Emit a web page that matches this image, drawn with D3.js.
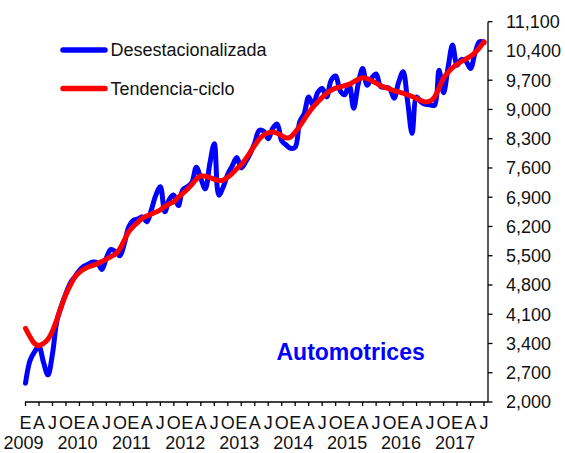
<!DOCTYPE html>
<html>
<head>
<meta charset="utf-8">
<script src="https://cdn.jsdelivr.net/npm/d3@7"></script>
<style>
  html, body { margin: 0; padding: 0; background: #fff; }
  svg { display: block; font-family: "Liberation Sans", Arial, sans-serif; }
</style>
</head>
<body>
<svg id="chart" width="565" height="453"></svg>
<script>
// ---- data ----
const years = [2009, 2010, 2011, 2012, 2013, 2014, 2015, 2016, 2017];
const monthLetters = ["E", "F", "M", "A", "M", "J", "J", "A", "S", "O", "N", "D"];
const lastMonthIndex2017 = 6; // data through julio 2017

const desestacionalizada = [
  2450, 2990, 3200, 3320, 2950, 2650, 3150, 3950, 4300, 4600, 4850, 5000,
  5150, 5250, 5300, 5350, 5330, 5170, 5450, 5650, 5600, 5500, 5800, 6200,
  6350, 6380, 6430, 6310, 6600, 6950, 7150, 6550, 6850, 6950, 6700, 7080,
  7150, 7250, 7620, 7350, 7100, 7700, 8180, 6950, 7150, 7450, 7650, 7850,
  7600, 7750, 7950, 8200, 8500, 8480, 8300, 8550, 8650, 8250, 8150, 8070,
  8100, 8700, 8900, 9300, 9100, 9400, 9500, 9300, 9700, 9800, 9450, 9350,
  9600, 9030, 9600, 9980, 9580, 9750, 9850, 9550, 9530, 9500, 9270, 9650,
  9900, 9200, 8430, 9300, 9180, 9120, 9110, 9100, 9940, 9400, 10000, 10540,
  10060, 10200, 10150, 9980, 10350, 10620, 10600
];
const tendencia = [
  3760, 3560, 3400, 3350, 3400, 3500, 3700, 3980, 4300, 4580, 4800, 4990,
  5100, 5180, 5230, 5270, 5310, 5360, 5420, 5480, 5540, 5670, 5880, 6080,
  6200, 6300, 6400, 6450, 6500, 6545, 6600, 6680, 6740, 6800, 6900, 6990,
  7090, 7200, 7330, 7410, 7400, 7370, 7330, 7300, 7310, 7380, 7470, 7580,
  7680, 7820, 7980, 8140, 8290, 8390, 8440, 8460, 8430, 8370, 8320, 8340,
  8460, 8600, 8760, 8920, 9060, 9180, 9290, 9390, 9460, 9510, 9540, 9570,
  9600, 9660, 9720, 9760, 9740, 9690, 9630, 9570, 9530, 9490, 9450, 9420,
  9390, 9350, 9310, 9260, 9210, 9180, 9200, 9300, 9520, 9750, 9890, 10000,
  10080, 10150, 10210, 10270, 10360, 10480, 10620
];
const yTicks = [2000, 2700, 3400, 4100, 4800, 5500, 6200, 6900, 7600, 8300, 9000, 9700, 10400, 11100];
const seriesNames = ["Desestacionalizada", "Tendencia-ciclo"];
const seriesColors = ["#0000ff", "#ff0000"];
const title = "Automotrices";

// categories: one per month
const categories = [];
years.forEach(y => monthLetters.forEach((m, k) => {
  if (y < 2017 || k <= lastMonthIndex2017) categories.push({ year: y, month: k, key: y + "-" + (k + 1) });
}));

// ---- layout ----
const svg = d3.select("#chart");
const x0 = 25.5, x1 = 484, axisRight = 488;
const yTop = 21.7, yBottom = 402;

const x = d3.scalePoint().domain(categories.map(d => d.key)).range([x0, x1]);
const y = d3.scaleLinear().domain([2000, 11100]).range([yBottom, yTop]);

// y axis (right)
const yAxis = svg.append("g").attr("transform", `translate(${axisRight},0)`);
yAxis.append("line").attr("x1", 0).attr("x2", 0).attr("y1", y(11100)).attr("y2", yBottom)
  .attr("stroke", "#000").attr("stroke-width", 1.3);
yTicks.forEach(t => {
  yAxis.append("line").attr("x1", 0).attr("x2", 4.5).attr("y1", y(t)).attr("y2", y(t))
    .attr("stroke", "#000").attr("stroke-width", 1.3);
  yAxis.append("text").attr("x", 18).attr("y", y(t)).attr("dy", "0.36em")
    .attr("font-size", 18).attr("fill", "#111").text(d3.format(",")(t));
});

// x axis (bottom)
const xAxis = svg.append("g");
xAxis.append("line").attr("x1", 25).attr("x2", axisRight).attr("y1", yBottom).attr("y2", yBottom)
  .attr("stroke", "#000").attr("stroke-width", 1.3);
categories.forEach(c => {
  if (c.month % 3 === 0) {
    const px = x(c.key);
    xAxis.append("line").attr("x1", px).attr("x2", px).attr("y1", yBottom).attr("y2", yBottom + 4)
      .attr("stroke", "#000").attr("stroke-width", 1.3);
    xAxis.append("text").attr("x", px).attr("y", 429).attr("text-anchor", "middle")
      .attr("font-size", 18).attr("fill", "#111").text(monthLetters[c.month]);
    if (c.month === 0) {
      xAxis.append("text").attr("x", Math.max(px - 2, 19)).attr("y", 448.5).attr("text-anchor", "middle")
        .attr("font-size", 18).attr("fill", "#111").text(c.year);
    }
  }
});

// lines
const line = d3.line()
  .x((d, i) => x(categories[i].key))
  .y(d => y(d))
  .curve(d3.curveCatmullRom.alpha(0.5));

svg.append("path").datum(desestacionalizada).attr("d", line)
  .attr("fill", "none").attr("stroke", seriesColors[0]).attr("stroke-width", 5)
  .attr("stroke-linejoin", "round").attr("stroke-linecap", "round");
svg.append("path").datum(tendencia).attr("d", line)
  .attr("fill", "none").attr("stroke", seriesColors[1]).attr("stroke-width", 5)
  .attr("stroke-linejoin", "round").attr("stroke-linecap", "round");

// legend
const legendY = [50, 88.5];
seriesNames.forEach((name, i) => {
  svg.append("line").attr("x1", 63).attr("x2", 105).attr("y1", legendY[i]).attr("y2", legendY[i])
    .attr("stroke", seriesColors[i]).attr("stroke-width", 5.5).attr("stroke-linecap", "round");
  svg.append("text").attr("x", 110.5).attr("y", legendY[i]).attr("dy", "0.36em")
    .attr("font-size", 18).attr("fill", "#111").text(name);
});

// title
svg.append("text").attr("x", 276.5).attr("y", 360).attr("font-size", 23).attr("font-weight", "bold")
  .attr("fill", "#0000ff").text(title);
</script>
</body>
</html>
